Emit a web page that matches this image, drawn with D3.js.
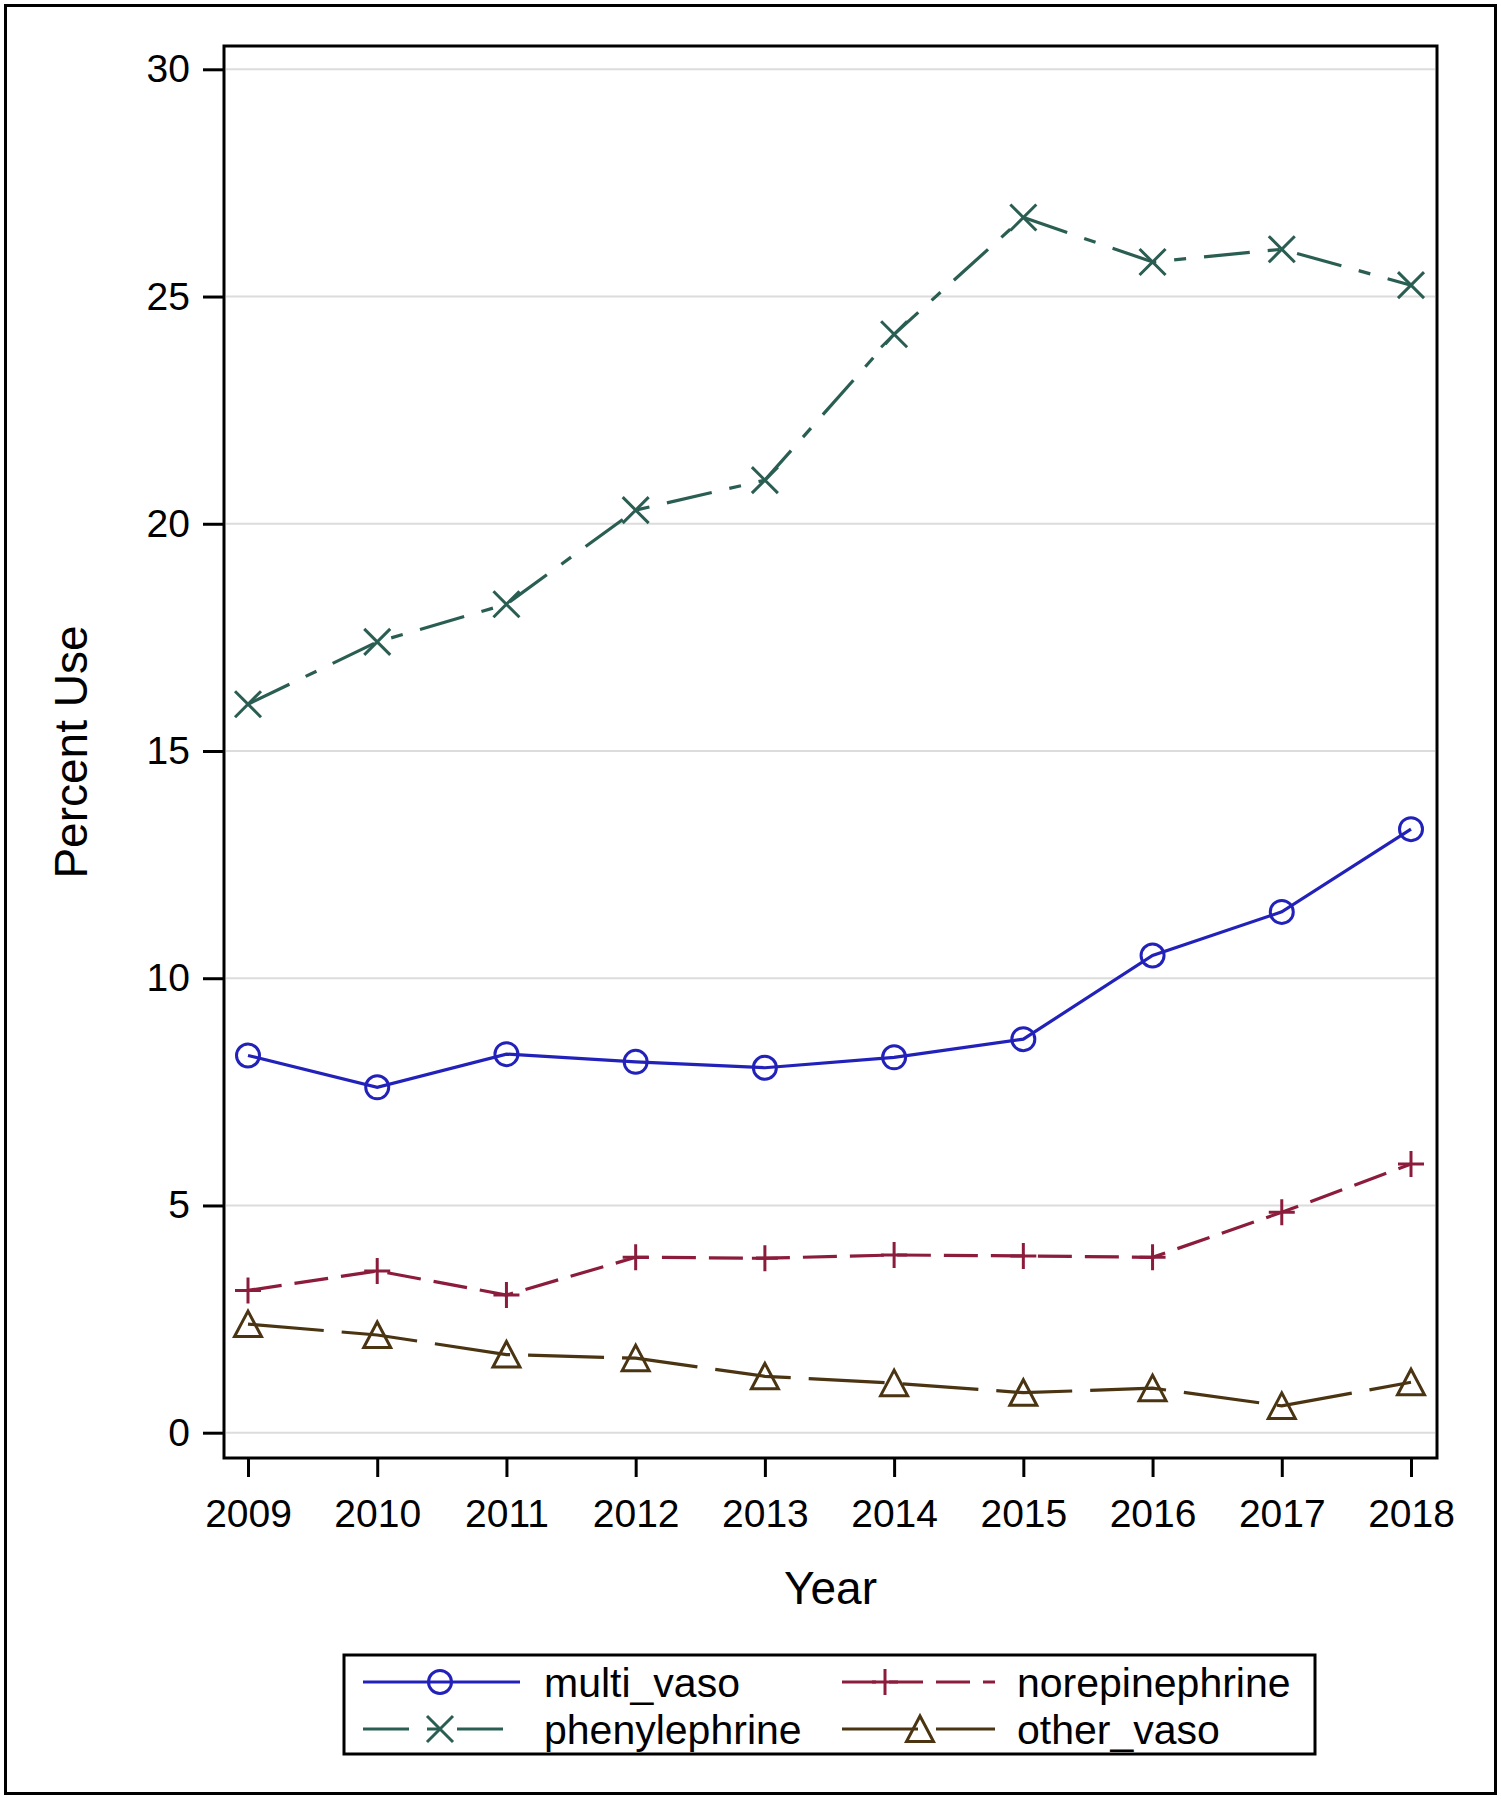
<!DOCTYPE html>
<html>
<head>
<meta charset="utf-8">
<script src="https://cdn.jsdelivr.net/npm/d3@7"></script>
<style>
  html, body { margin: 0; padding: 0; background: #fff; }
  svg { display: block; }
  text { font-family: "Liberation Sans", Arial, Helvetica, sans-serif; fill: #000; }
</style>
</head>
<body>
<svg id="chart" width="1501" height="1800"></svg>
<script>
// ---- data ----
const years = [2009, 2010, 2011, 2012, 2013, 2014, 2015, 2016, 2017, 2018];
const yTicks = [0, 5, 10, 15, 20, 25, 30];
const multiVaso      = [8.30, 7.60, 8.33, 8.16, 8.03, 8.26, 8.66, 10.50, 11.46, 13.28];
const norepinephrine = [3.13, 3.56, 3.03, 3.86, 3.84, 3.91, 3.89, 3.86, 4.85, 5.91];
const phenylephrine  = [16.03, 17.40, 18.23, 20.30, 20.96, 24.17, 26.74, 25.76, 26.04, 25.25];
const otherVaso      = [2.39, 2.15, 1.72, 1.64, 1.24, 1.09, 0.88, 0.98, 0.59, 1.11];
const seriesNames = ["multi_vaso", "norepinephrine", "phenylephrine", "other_vaso"];
const xTitle = "Year";
const yTitle = "Percent Use";

// ---- styles ----
const styles = {
  multi_vaso:     { color: "#2222bb", dash: null,            marker: "circle" },
  norepinephrine: { color: "#8c1c3c", dash: "34,13",         marker: "plus" },
  phenylephrine:  { color: "#2b5e52", dash: "46,18,12,18",   marker: "x" },
  other_vaso:     { color: "#4a3412", dash: "76,18",         marker: "triangle" }
};
const seriesData = {
  multi_vaso: multiVaso,
  norepinephrine: norepinephrine,
  phenylephrine: phenylephrine,
  other_vaso: otherVaso
};

const svg = d3.select("#chart");

// outer border
svg.append("rect").attr("x", 5.5).attr("y", 5.5).attr("width", 1490).attr("height", 1788)
  .attr("fill", "none").attr("stroke", "#000").attr("stroke-width", 3);

const frame = { left: 224, top: 46, right: 1437, bottom: 1458 };

const x = d3.scaleLinear().domain([2009, 2018]).range([248, 1411]);
const y = d3.scaleLinear().domain([0, 30]).range([1432.7, 69.3]);

// gridlines
svg.append("g").selectAll("line").data(yTicks).join("line")
  .attr("x1", frame.left + 2).attr("x2", frame.right - 2)
  .attr("y1", d => y(d)).attr("y2", d => y(d))
  .attr("stroke", "#dcdcdc").attr("stroke-width", 2);

// axes
const yAxis = svg.append("g").attr("transform", `translate(${frame.left},0)`)
  .call(d3.axisLeft(y).tickValues(yTicks).tickSize(21).tickPadding(13).tickFormat(d3.format("d")));
yAxis.select(".domain").remove();
yAxis.selectAll(".tick line").attr("stroke", "#000").attr("stroke-width", 3);
yAxis.selectAll(".tick text").attr("font-size", 39).attr("font-family", "Liberation Sans, Arial, sans-serif").attr("fill", "#000");

const xAxis = svg.append("g").attr("transform", `translate(0,${frame.bottom})`)
  .call(d3.axisBottom(x).tickValues(years).tickSize(19).tickPadding(22).tickFormat(d3.format("d")));
xAxis.select(".domain").remove();
xAxis.selectAll(".tick line").attr("stroke", "#000").attr("stroke-width", 3);
xAxis.selectAll(".tick text").attr("font-size", 39).attr("font-family", "Liberation Sans, Arial, sans-serif").attr("fill", "#000");

// frame
svg.append("rect").attr("x", frame.left).attr("y", frame.top)
  .attr("width", frame.right - frame.left).attr("height", frame.bottom - frame.top)
  .attr("fill", "none").attr("stroke", "#000").attr("stroke-width", 3);

// axis titles
svg.append("text").attr("x", (frame.left + frame.right) / 2).attr("y", 1604)
  .attr("text-anchor", "middle").attr("font-size", 46).text(xTitle);
svg.append("text").attr("transform", `translate(87,752) rotate(-90)`)
  .attr("text-anchor", "middle").attr("font-size", 46).text(yTitle);

// marker drawing
function drawMarker(g, type, cx, cy, color) {
  const s = 13;
  if (type === "circle") {
    g.append("circle").attr("cx", cx).attr("cy", cy).attr("r", 11.5)
      .attr("fill", "none").attr("stroke", color).attr("stroke-width", 3);
  } else if (type === "plus") {
    g.append("path").attr("d", `M${cx - s},${cy}H${cx + s}M${cx},${cy - s}V${cy + s}`)
      .attr("fill", "none").attr("stroke", color).attr("stroke-width", 3);
  } else if (type === "x") {
    g.append("path").attr("d", `M${cx - s},${cy - s}L${cx + s},${cy + s}M${cx - s},${cy + s}L${cx + s},${cy - s}`)
      .attr("fill", "none").attr("stroke", color).attr("stroke-width", 3);
  } else if (type === "triangle") {
    g.append("path").attr("d", `M${cx},${cy - 13}L${cx + 13.5},${cy + 12.5}L${cx - 13.5},${cy + 12.5}Z`)
      .attr("fill", "none").attr("stroke", color).attr("stroke-width", 3).attr("stroke-linejoin", "miter");
  }
}

// series lines
const line = d3.line().x((d, i) => x(years[i])).y(d => y(d));
const drawOrder = ["multi_vaso", "norepinephrine", "phenylephrine", "other_vaso"];
drawOrder.forEach(name => {
  const st = styles[name];
  const g = svg.append("g");
  g.append("path").datum(seriesData[name]).attr("d", line)
    .attr("fill", "none").attr("stroke", st.color).attr("stroke-width", 3.2)
    .attr("stroke-dasharray", st.dash);
  seriesData[name].forEach((v, i) => drawMarker(g, st.marker, x(years[i]), y(v), st.color));
});

// legend
const lg = svg.append("g");
lg.append("rect").attr("x", 344).attr("y", 1655).attr("width", 971).attr("height", 99)
  .attr("fill", "#fff").attr("stroke", "#000").attr("stroke-width", 3);
const legendItems = [
  { name: "multi_vaso",     lx1: 363, lx2: 520, mx: 440, tx: 544,  ty: 1682 },
  { name: "norepinephrine", lx1: 842, lx2: 995, mx: 885, tx: 1017, ty: 1682 },
  { name: "phenylephrine",  lx1: 363, lx2: 520, mx: 440, tx: 544,  ty: 1729 },
  { name: "other_vaso",     lx1: 842, lx2: 995, mx: 920, tx: 1017, ty: 1729 }
];
legendItems.forEach(it => {
  const st = styles[it.name];
  lg.append("line").attr("x1", it.lx1).attr("x2", it.lx2).attr("y1", it.ty).attr("y2", it.ty)
    .attr("stroke", st.color).attr("stroke-width", 3).attr("stroke-dasharray", st.dash);
  drawMarker(lg, st.marker, it.mx, it.ty, st.color);
  lg.append("text").attr("x", it.tx).attr("y", it.ty).attr("dy", "0.36em")
    .attr("font-size", 41).text(it.name);
});
</script>
</body>
</html>
